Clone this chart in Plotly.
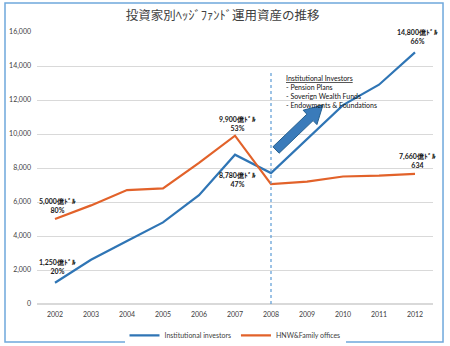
import plotly.graph_objects as go

# Hedge fund assets by investor type (100 million USD)
years = [2002, 2003, 2004, 2005, 2006, 2007, 2008, 2009, 2010, 2011, 2012]
institutional = [1250, 2600, 3700, 4800, 6400, 8780, 7700, 9700, 11700, 12900, 14800]
hnw_family = [5000, 5800, 6700, 6800, 8300, 9900, 7050, 7200, 7500, 7550, 7660]

series_names = ["Institutional investors", "HNW&Family offices"]
title_text = "投資家別ﾍｯｼﾞﾌｧﾝﾄﾞ運用資産の推移"
y_ticks = [0, 2000, 4000, 6000, 8000, 10000, 12000, 14000, 16000]

# value callouts: (year, value, text, yshift)
callouts = [
    (2002, 1250, "1,250億ﾄﾞﾙ<br>20%", 16),
    (2002, 5000, "5,000億ﾄﾞﾙ<br>80%", 14),
    (2007, 9900, "9,900億ﾄﾞﾙ<br>53%", 12),
    (2007, 8780, "8,780億ﾄﾞﾙ<br>47%", -25),
    (2012, 14800, "14,800億ﾄﾞﾙ<br>66%", 16),
    (2012, 7660, "7,660億ﾄﾞﾙ<br>634", 13),
]

note_text = ("<u>Institutional Investors</u><br>- Pension Plans<br>"
             "- Soverign Wealth Funds<br>- Endowments & Foundations")

BLUE = "#2F75B5"
ORANGE = "#E2622A"
LATIN = "Lato, 'Open Sans', sans-serif"

fig = go.Figure()
fig.add_trace(go.Scatter(x=years, y=institutional, mode="lines", name=series_names[0],
                         line=dict(color=BLUE, width=2.2)))
fig.add_trace(go.Scatter(x=years, y=hnw_family, mode="lines", name=series_names[1],
                         line=dict(color=ORANGE, width=2.2)))

for yr, val, txt, dy in callouts:
    fig.add_annotation(x=yr, y=val, xref="x", yref="y", text=txt, showarrow=False,
                       yshift=dy, xshift=2,
                       font=dict(size=7, color="#1A1A1A", family=LATIN, weight="bold"),
                       align="center")

# 2008 divider
fig.add_shape(type="line", x0=2008, x1=2008, y0=0, y1=13600, xref="x", yref="y",
              line=dict(color="#5B9BD5", width=1.2, dash="dot"))

# block arrow after 2008
arrow = [(2008.225, 8870), (2008.053, 9247), (2008.997, 11165), (2008.892, 11400),
         (2009.444, 11706), (2009.275, 10553), (2009.169, 10788)]
path = "M " + " L ".join(f"{x},{y}" for x, y in arrow) + " Z"
fig.add_shape(type="path", path=path, xref="x", yref="y",
              fillcolor="#3A7BBA", line=dict(color="#25608F", width=1))

fig.add_annotation(x=2008.36, y=13650, xref="x", yref="y", text=note_text,
                   showarrow=False, xanchor="left", yanchor="top", align="left",
                   font=dict(size=7, color="#111111", family=LATIN))

# frame around the chart
fig.add_shape(type="rect", xref="paper", yref="paper",
              x0=-0.0808, x1=1.0253, y0=-0.1397, y1=1.1066,
              line=dict(color="#6FA8DC", width=1.5))

fig.update_layout(
    width=450, height=346,
    margin=dict(l=37, r=17, t=32, b=42, autoexpand=False),
    paper_bgcolor="white", plot_bgcolor="white",
    title=dict(text=title_text, x=0.495, xanchor="center", y=0.955, yanchor="middle",
               font=dict(size=12.5, color="#404040", family="'Noto Sans CJK JP'")),
    showlegend=True,
    legend=dict(orientation="h", x=0.5, xanchor="center", y=-0.115, yanchor="middle",
                font=dict(size=7, color="#404040", family=LATIN),
                itemwidth=30),
    xaxis=dict(range=[2001.5, 2012.5], tickvals=years, ticks="", showgrid=False,
               zeroline=False, showline=False, ticklabelstandoff=5,
               tickfont=dict(size=7, color="#404040", family=LATIN)),
    yaxis=dict(range=[0, 16000], tickvals=y_ticks, tickformat=",d", ticks="",
               showgrid=True, gridcolor="#D9D9D9", gridwidth=1,
               zeroline=True, zerolinecolor="#D9D9D9", showline=False,
               tickfont=dict(size=7, color="#404040", family=LATIN), ticklabelstandoff=5),
)

fig.write_html("out.html")
